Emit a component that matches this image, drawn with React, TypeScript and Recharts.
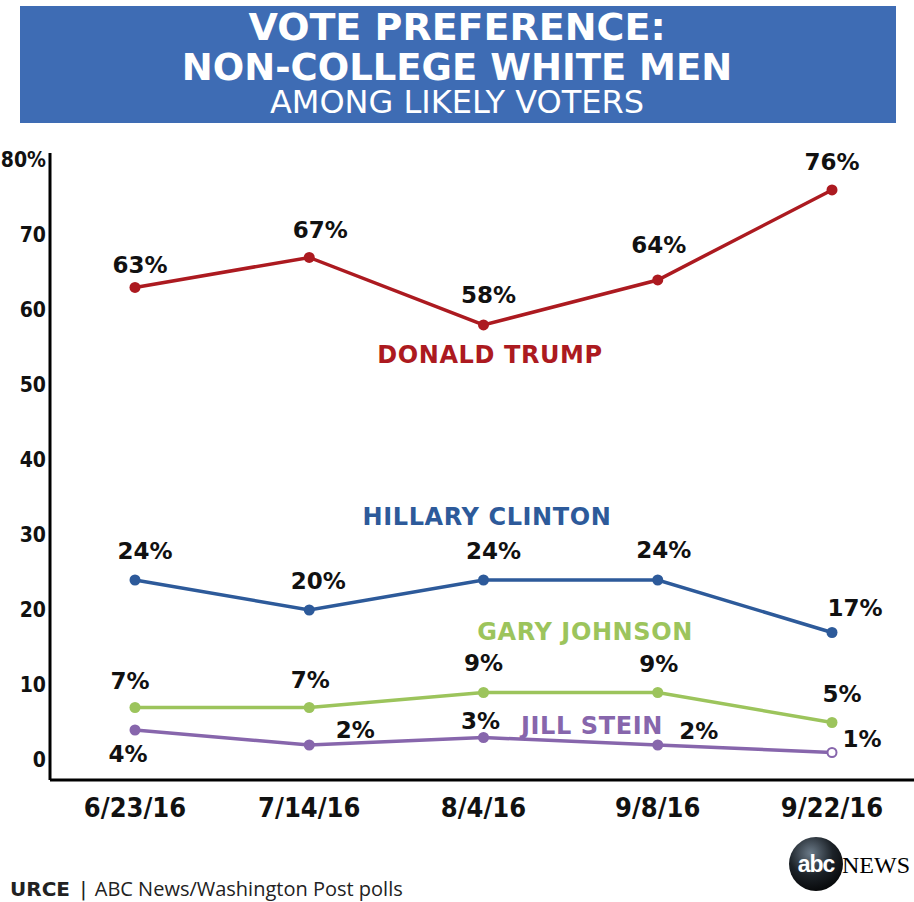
import { CartesianGrid, LabelList, Line, LineChart, XAxis, YAxis } from "recharts";

const dates = ["6/23/16", "7/14/16", "8/4/16", "9/8/16", "9/22/16"];
const trump = [63, 67, 58, 64, 76];
const clinton = [24, 20, 24, 24, 17];
const johnson = [7, 7, 9, 9, 5];
const stein = [4, 2, 3, 2, 1];
const yTicks = [0, 10, 20, 30, 40, 50, 60, 70, 80];
const yTickLabels = ["0", "10", "20", "30", "40", "50", "60", "70", "80%"];

const FONT = "'DejaVu Sans', sans-serif";
const COND = "'DejaVu Sans Condensed', 'DejaVu Sans', sans-serif";

// label offsets (dx, dy) from each point, per series
const labelOffsets: Record<string, [number, number][]> = {
  trump: [[5, -22], [11, -27], [5, -30], [1, -35], [0, -28]],
  clinton: [[10, -29], [9, -29], [10, -29], [6, -30], [23, -24]],
  johnson: [[-5, -26], [1, -27], [0, -29], [1, -28], [10, -28]],
  stein: [[-7, 24], [46, -15], [-3, -16], [41, -14], [30, -13]],
};

const colors: Record<string, string> = {
  trump: "#ac1a20",
  clinton: "#2d5a9a",
  johnson: "#9cc45c",
  stein: "#8766ac",
};

const data = dates.map((d, i) => ({
  date: d,
  trump: trump[i],
  clinton: clinton[i],
  johnson: johnson[i],
  stein: stein[i],
}));

const makeLabel = (key: string) => (props: any) => {
  const { x, y, value, index } = props;
  const [dx, dy] = labelOffsets[key][index] || [0, -25];
  return (
    <text
      x={x + dx}
      y={y + dy}
      textAnchor="middle"
      dominantBaseline="central"
      fontFamily={FONT}
      fontWeight={700}
      fontSize={23}
      fill="#111"
    >
      {value}%
    </text>
  );
};

const makeDot = (key: string) => (props: any) => {
  const { cx, cy, index } = props;
  const hollow = key === "stein" && index === 4;
  return (
    <circle
      key={`${key}-${index}`}
      cx={cx}
      cy={cy}
      r={hollow ? 4.5 : 5.5}
      fill={hollow ? "#fff" : colors[key]}
      stroke={colors[key]}
      strokeWidth={hollow ? 2 : 0}
    />
  );
};

const YTick = (props: any) => {
  const { x, y, payload } = props;
  const i = yTicks.indexOf(payload.value);
  return (
    <text x={x - 4} y={y} textAnchor="end" dominantBaseline="central" fontFamily={COND} fontWeight={700} fontSize={21} fill="#111">
      {yTickLabels[i]}
    </text>
  );
};

const XTick = (props: any) => {
  const { x, y, payload } = props;
  return (
    <text x={x} y={y + 37} textAnchor="middle" fontFamily={COND} fontWeight={700} fontSize={27} fill="#111">
      {payload.value}
    </text>
  );
};

const names = [
  { key: "trump", text: "DONALD TRUMP", x: 490, y: 355 },
  { key: "clinton", text: "HILLARY CLINTON", x: 487, y: 517 },
  { key: "johnson", text: "GARY JOHNSON", x: 585, y: 632 },
  { key: "stein", text: "JILL STEIN", x: 592, y: 726 },
];

export default function App() {
  return (
    <div style={{ position: "absolute", left: 0, top: 0, width: 914, height: 902, overflow: "hidden", background: "#fff", fontFamily: FONT }}>
      <div style={{ position: "absolute", left: 20, top: 6, width: 876, height: 117, background: "#3e6cb4" }} />
      <svg width={914} height={130} style={{ position: "absolute", left: 0, top: 0 }}>
        <text x={457} y={40} textAnchor="middle" fill="#fff" fontFamily={FONT} fontWeight={700} fontSize={38}>
          VOTE PREFERENCE:
        </text>
        <text x={457} y={80} textAnchor="middle" fill="#fff" fontFamily={FONT} fontWeight={700} fontSize={37}>
          NON-COLLEGE WHITE MEN
        </text>
        <text x={457} y={113} textAnchor="middle" fill="#fff" fontFamily={FONT} fontSize={32}>
          AMONG LIKELY VOTERS
        </text>
      </svg>
      <div style={{ position: "absolute", left: 0, top: 0 }}>
        <LineChart width={914} height={902} data={data} margin={{ top: 153, right: 0, bottom: 0, left: 0 }}>
          <CartesianGrid horizontal={false} vertical={false} />
          <XAxis
            dataKey="date"
            height={122}
            padding={{ left: 85, right: 82 }}
            axisLine={{ stroke: "#000", strokeWidth: 3 }}
            tickLine={false}
            tickSize={0}
            tickMargin={0}
            tick={<XTick />}
            interval={0}
          />
          <YAxis
            type="number"
            width={50}
            domain={[-2.667, 80.93]}
            ticks={yTicks}
            allowDataOverflow
            axisLine={{ stroke: "#000", strokeWidth: 3 }}
            tickLine={false}
            tickSize={0}
            tickMargin={0}
            tick={<YTick />}
            interval={0}
          />
          {["trump", "clinton", "johnson", "stein"].map((key) => (
            <Line
              key={key}
              dataKey={key}
              stroke={colors[key]}
              strokeWidth={3.5}
              dot={makeDot(key)}
              activeDot={false}
              isAnimationActive={false}
            >
              <LabelList dataKey={key} content={makeLabel(key)} />
            </Line>
          ))}
        </LineChart>
      </div>
      <svg width={914} height={902} style={{ position: "absolute", left: 0, top: 0, pointerEvents: "none" }}>
        {names.map((n) => (
          <text
            key={n.key}
            x={n.x}
            y={n.y}
            textAnchor="middle"
            dominantBaseline="central"
            fontFamily={FONT}
            fontWeight={700}
            fontSize={24}
            letterSpacing={0.6}
            fill={colors[n.key]}
          >
            {n.text}
          </text>
        ))}
        <text x={10} y={896} fontFamily={FONT} fontSize={20} fill="#222">
          <tspan fontWeight={700}>URCE</tspan>
          <tspan dx={10}>|</tspan>
          <tspan dx={8} fontFamily="'Open Sans', sans-serif">ABC News/Washington Post polls</tspan>
        </text>
        <defs>
          <radialGradient id="abcGrad" cx="40%" cy="30%" r="75%">
            <stop offset="0%" stopColor="#6b7a88" />
            <stop offset="55%" stopColor="#1c2228" />
            <stop offset="100%" stopColor="#050607" />
          </radialGradient>
        </defs>
        <circle cx={816} cy={864} r={27} fill="url(#abcGrad)" />
        <text x={816} y={872} textAnchor="middle" fontFamily="'Liberation Sans', sans-serif" fontWeight={700} fontSize={23} fill="#fff" letterSpacing={-1}>
          abc
        </text>
        <text x={842} y={873} fontFamily="'Liberation Serif', serif" fontSize={24}>
          NEWS
        </text>
      </svg>
    </div>
  );
}
